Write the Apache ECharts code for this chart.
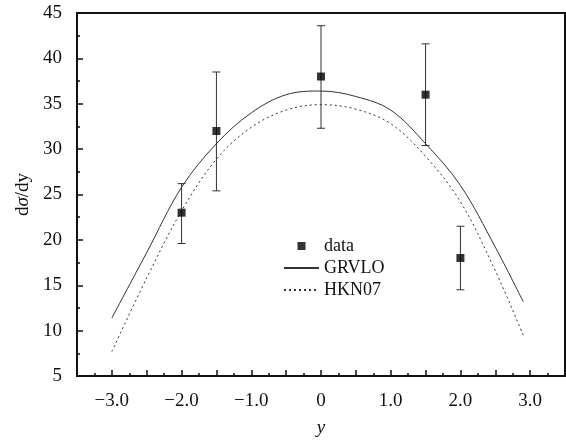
<!DOCTYPE html>
<html>
<head>
<meta charset="utf-8">
<script src="https://cdn.jsdelivr.net/npm/echarts@6/dist/echarts.min.js"></script>
<style>
  html, body { margin: 0; padding: 0; background: #fff; }
  #chart { width: 566px; height: 442px; }
</style>
</head>
<body>
<div id="chart"></div>
<script>
// measured points with error bars
const dataX = [-2.0, -1.5, 0, 1.5, 2.0];
const dataY = [23.0, 32.0, 38.0, 36.0, 18.0];
const errLow = [19.6, 25.4, 32.3, 30.4, 14.5];
const errHigh = [26.2, 38.5, 43.6, 41.6, 21.5];

// theory curves
const curveX = [-3.0, -2.5, -2.0, -1.5, -1.0, -0.5, 0, 0.5, 1.0, 1.5, 2.0, 2.5, 2.9];
const grvlo = [11.4, 18.6, 25.8, 30.6, 34.0, 36.0, 36.4, 35.8, 34.3, 30.6, 26.0, 19.2, 13.2];
const hkn07 = [7.7, 15.8, 23.2, 28.9, 32.4, 34.3, 34.9, 34.4, 32.8, 29.2, 24.2, 16.6, 9.5];

const FONT = "Liberation Serif";
const INK = "#111";
const NO_SYMBOL = { color: "rgba(0,0,0,0)", borderWidth: 0 };

const chart = echarts.init(document.getElementById("chart"));

const fmtX = (v) => {
  if (Math.abs(v % 1) > 1e-6) return "";
  if (v === 0) return "0";
  return (v < 0 ? "\u2212" : "") + Math.abs(v).toFixed(1);
};

const option = {
  backgroundColor: "#fff",
  animation: false,
  grid: {
    left: 77,
    top: 13,
    right: 1,
    bottom: 64,
    show: true,
    borderColor: INK,
    borderWidth: 2,
  },
  legend: {
    orient: "vertical",
    left: 283,
    top: 237,
    padding: 0,
    itemWidth: 35,
    itemHeight: 14,
    itemGap: 4,
    textStyle: { fontFamily: FONT, fontSize: 18, color: INK },
    data: [
      { name: "data", icon: "path://M0,0M14,14M3,3H11V11H3Z" },
      { name: "GRVLO", itemStyle: NO_SYMBOL },
      { name: "HKN07", itemStyle: NO_SYMBOL },
    ],
  },
  xAxis: {
    type: "value",
    min: -3.5,
    max: 3.5,
    interval: 0.5,
    name: "y",
    nameLocation: "middle",
    nameGap: 42,
    nameTextStyle: { fontFamily: FONT, fontSize: 19, fontStyle: "italic", color: INK },
    axisLine: { onZero: false, lineStyle: { color: INK, width: 2 } },
    axisTick: { inside: true, length: 6, lineStyle: { color: INK, width: 1.5 } },
    minorTick: { show: true, splitNumber: 2, length: 3, lineStyle: { color: INK, width: 1.5 } },
    splitLine: { show: false },
    axisLabel: {
      formatter: fmtX,
      margin: 16,
      fontFamily: FONT,
      fontSize: 19,
      color: INK,
      showMinLabel: false,
      showMaxLabel: false,
    },
  },
  yAxis: {
    type: "value",
    min: 5,
    max: 45,
    interval: 5,
    name: "{a|d}{b|\u03c3}{a|/dy}",
    nameLocation: "middle",
    nameGap: 42,
    nameTextStyle: {
      rich: {
        a: { fontFamily: FONT, fontSize: 19, color: INK },
        b: { fontFamily: FONT, fontSize: 19, fontStyle: "italic", color: INK },
      },
    },
    axisLine: { show: true, onZero: false, lineStyle: { color: INK, width: 2 } },
    axisTick: { show: true, inside: true, length: 6, lineStyle: { color: INK, width: 1.5 } },
    minorTick: { show: true, splitNumber: 2, length: 3, lineStyle: { color: INK, width: 1.5 } },
    splitLine: { show: false },
    axisLabel: { margin: 15, fontFamily: FONT, fontSize: 19, color: INK },
  },
  series: [
    {
      name: "GRVLO",
      type: "line",
      smooth: 0.35,
      symbol: "none",
      data: curveX.map((x, i) => [x, grvlo[i]]),
      lineStyle: { color: "#333", width: 1 },
      itemStyle: { color: "#333" },
      z: 2,
    },
    {
      name: "HKN07",
      type: "line",
      smooth: 0.35,
      symbol: "none",
      data: curveX.map((x, i) => [x, hkn07[i]]),
      lineStyle: { color: "#333", width: 1, type: [2, 3] },
      itemStyle: { color: "#333" },
      z: 2,
    },
    {
      name: "errors",
      type: "custom",
      data: dataX.map((x, i) => [x, errLow[i], errHigh[i]]),
      renderItem: (params, api) => {
        const lo = api.coord([api.value(0), api.value(1)]);
        const hi = api.coord([api.value(0), api.value(2)]);
        const cap = 4;
        const style = { stroke: "#333", lineWidth: 1 };
        return {
          type: "group",
          children: [
            { type: "line", shape: { x1: lo[0], y1: lo[1], x2: hi[0], y2: hi[1] }, style },
            { type: "line", shape: { x1: lo[0] - cap, y1: lo[1], x2: lo[0] + cap, y2: lo[1] }, style },
            { type: "line", shape: { x1: hi[0] - cap, y1: hi[1], x2: hi[0] + cap, y2: hi[1] }, style },
          ],
        };
      },
      z: 3,
    },
    {
      name: "data",
      type: "scatter",
      symbol: "rect",
      symbolSize: 8,
      data: dataX.map((x, i) => [x, dataY[i]]),
      itemStyle: { color: "#000" },
      z: 4,
    },
  ],
};

chart.setOption(option);
</script>
</body>
</html>
